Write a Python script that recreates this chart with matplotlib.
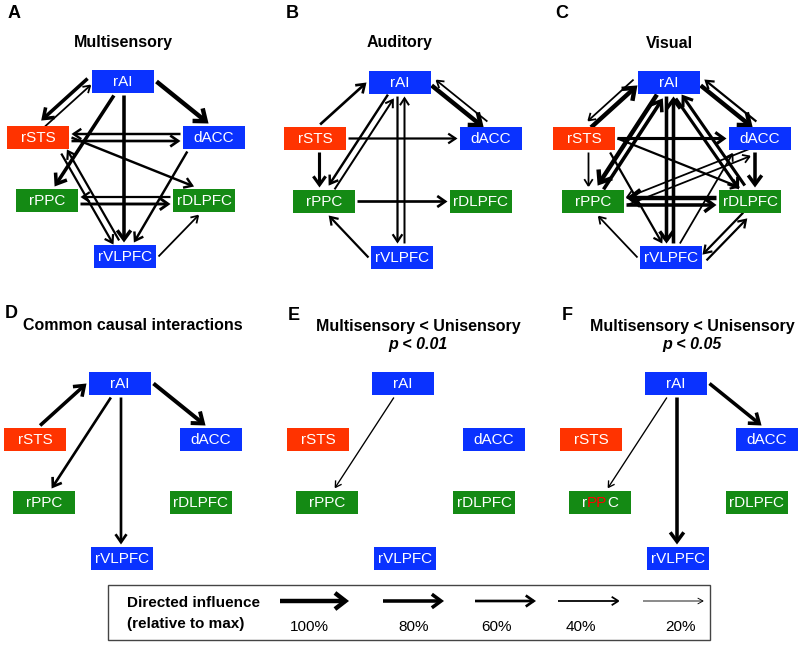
import matplotlib
matplotlib.use('Agg')
import matplotlib.pyplot as plt
import numpy as np
from matplotlib.patches import Rectangle, FancyArrowPatch, ArrowStyle

plt.rcParams['font.family'] = ['Liberation Sans', 'DejaVu Sans']

# ---- data ----
nodes = ['rAI', 'rSTS', 'dACC', 'rPPC', 'rDLPFC', 'rVLPFC']
node_colors = {'rAI': '#0a32ff', 'rSTS': '#ff3300', 'dACC': '#0a32ff',
               'rPPC': '#148a14', 'rDLPFC': '#148a14', 'rVLPFC': '#0a32ff'}

panel_letters = ['A', 'B', 'C', 'D', 'E', 'F']
panel_titles = ['Multisensory', 'Auditory', 'Visual', 'Common causal interactions',
                'Multisensory < Unisensory', 'Multisensory < Unisensory']
panel_subtitles = ['', '', '', '', 'p < 0.01', 'p < 0.05']

# (source, target, influence in % of max)
multisensory_edges = [
    ('rAI', 'dACC', 100), ('rAI', 'rSTS', 80), ('rSTS', 'rAI', 40),
    ('rAI', 'rPPC', 80), ('rAI', 'rVLPFC', 80), ('dACC', 'rSTS', 55),
    ('rSTS', 'dACC', 60), ('rSTS', 'rDLPFC', 55), ('dACC', 'rVLPFC', 55),
    ('rVLPFC', 'rSTS', 50), ('rSTS', 'rVLPFC', 50), ('rPPC', 'rDLPFC', 65),
    ('rDLPFC', 'rPPC', 50), ('rVLPFC', 'rDLPFC', 40),
]
auditory_edges = [
    ('rSTS', 'rAI', 60), ('rAI', 'dACC', 100), ('dACC', 'rAI', 40),
    ('rSTS', 'dACC', 50), ('rSTS', 'rPPC', 70), ('rAI', 'rPPC', 55),
    ('rPPC', 'rAI', 45), ('rAI', 'rVLPFC', 50), ('rVLPFC', 'rAI', 45),
    ('rPPC', 'rDLPFC', 60), ('rVLPFC', 'rPPC', 50),
]
visual_edges = [
    ('rAI', 'rSTS', 40), ('rSTS', 'rAI', 100), ('rAI', 'dACC', 100),
    ('dACC', 'rAI', 50), ('rSTS', 'dACC', 70), ('rSTS', 'rPPC', 40),
    ('rSTS', 'rDLPFC', 50), ('rSTS', 'rVLPFC', 50), ('rAI', 'rPPC', 100),
    ('rPPC', 'rAI', 80), ('rAI', 'rVLPFC', 80), ('rVLPFC', 'rAI', 80),
    ('rAI', 'rDLPFC', 70), ('rDLPFC', 'rAI', 70), ('rVLPFC', 'dACC', 40),
    ('dACC', 'rDLPFC', 80), ('rPPC', 'dACC', 40), ('dACC', 'rPPC', 40),
    ('rPPC', 'rDLPFC', 80), ('rDLPFC', 'rPPC', 100), ('rVLPFC', 'rPPC', 40),
    ('rVLPFC', 'rDLPFC', 50), ('rDLPFC', 'rVLPFC', 50),
]
common_edges = [('rSTS', 'rAI', 80), ('rAI', 'rPPC', 60),
                ('rAI', 'rVLPFC', 60), ('rAI', 'dACC', 90)]
diff01_edges = [('rAI', 'rPPC', 30)]
diff05_edges = [('rAI', 'rPPC', 30), ('rAI', 'rVLPFC', 80), ('rAI', 'dACC', 80)]
panel_edges = [multisensory_edges, auditory_edges, visual_edges,
               common_edges, diff01_edges, diff05_edges]

# node label partly highlighted in red (panel, node, highlighted letters)
highlight = ('F', 'rPPC', 'PP')

legend_pct = [100, 80, 60, 40, 20]
legend_labels = ['100%', '80%', '60%', '40%', '20%']

# ---- layout (pixels) ----
W, H = 62, 23
FS_NODE = 11
node_offset = {'rAI': (0, 0), 'rSTS': (-85, 56), 'dACC': (91, 56),
               'rPPC': (-76, 119), 'rDLPFC': (81, 119), 'rVLPFC': (2, 175)}
panel_origin = [(92, 70), (369, 71), (638, 71), (89, 372), (372, 372), (645, 372)]
letter_pos = [(8, 14), (286, 14), (555, 14), (5, 314), (288, 315), (562, 315)]
title_pos = [(123, 43), (400, 43), (669, 43), (23, 325), (418, 326), (692, 326)]
central = {'rAI', 'rVLPFC'}


def corner(org, n):
    return org[0] + node_offset[n][0], org[1] + node_offset[n][1]


def center(org, n):
    x, y = corner(org, n)
    return x + W / 2, y + H / 2


def width_of(pct):
    return 3.2 * pct / 100


def ports(org, a, b):
    G = 2.5
    (ax0, ay0), (bx0, by0) = corner(org, a), corner(org, b)
    ca, cb = center(org, a), center(org, b)
    dx, dy = cb[0] - ca[0], cb[1] - ca[1]
    if abs(dy) < 20:
        y = (ca[1] + cb[1]) / 2
        if dx > 0:
            return (ax0 + W + G, y), (bx0 - G, y)
        return (ax0 - G, y), (bx0 + W + G, y)
    if abs(dx) < 30:
        x = (ca[0] + cb[0]) / 2
        if dy > 0:
            return (x, ay0 + H + G), (x, by0 - G)
        return (x, ay0 - G), (x, by0 + H + G)
    if abs(dy) > abs(dx):
        def vport(n, c, x0, y0, oc, upper):
            k = (0.12 if n in central else 0.3) if upper else 0.1
            x = c[0] + k * (oc[0] - c[0])
            x = min(max(x, x0 + 4), x0 + W - 4)
            y = y0 + H + G if upper else y0 - G
            return (x, y)
        pa = vport(a, ca, ax0, ay0, cb, dy > 0)
        pb = vport(b, cb, bx0, by0, ca, dy < 0)
        return pa, pb
    # diagonal: one node leaves from its side, the other enters top/bottom
    if (a in central) != (b in central):
        side = a if a in central else b
    else:
        side = a if ca[0] < cb[0] else b
    other = b if side == a else a
    sx0, sy0 = corner(org, side)
    ox0, oy0 = corner(org, other)
    sc, oc = center(org, side), center(org, other)
    ps = (sx0 + W + G if oc[0] > sc[0] else sx0 - G, sc[1])
    po = (oc[0] + 0.06 * (sc[0] - oc[0]),
          oy0 - G if oc[1] > sc[1] else oy0 + H + G)
    return (ps, po) if side == a else (po, ps)


def draw_arrow(ax, p0, p1, pct):
    f = pct / 100
    style = ArrowStyle('->', head_length=3.0 + 4.5 * f, head_width=1.2 + 4.6 * f)
    ax.add_patch(FancyArrowPatch(p0, p1, arrowstyle=style, mutation_scale=1,
                                 lw=width_of(pct), color='black',
                                 shrinkA=0, shrinkB=0, zorder=2,
                                 joinstyle='miter', capstyle='butt'))


fig = plt.figure(figsize=(8.0, 6.47), dpi=100)
ax = fig.add_axes([0, 0, 1, 1])
ax.set_xlim(0, 800)
ax.set_ylim(647, 0)
ax.axis('off')
renderer = fig.canvas.get_renderer()


def text_width(s):
    t = ax.text(0, 0, s, fontsize=FS_NODE)
    w = t.get_window_extent(renderer).width
    t.remove()
    return w


for i, org in enumerate(panel_origin):
    lx, ly = letter_pos[i]
    ax.text(lx, ly, panel_letters[i], fontsize=13, fontweight='bold',
            ha='left', va='center')
    tx, ty = title_pos[i]
    ax.text(tx, ty, panel_titles[i], fontsize=11.5, fontweight='bold',
            ha='left' if i == 3 else 'center', va='center')
    if panel_subtitles[i]:
        ax.text(tx, ty + 19, panel_subtitles[i], fontsize=11.5, fontweight='bold',
                fontstyle='italic', ha='center', va='center')

    edges = panel_edges[i]
    pairs = {(s, t) for s, t, _ in edges}
    for s, t, pct in edges:
        p0, p1 = ports(org, s, t)
        p0, p1 = np.array(p0), np.array(p1)
        if (t, s) in pairs:
            lo, hi = sorted([s, t])
            v = np.array(center(org, hi)) - np.array(center(org, lo))
            n = np.array([-v[1], v[0]]) / np.hypot(*v)
            off = n * 3.5 * (1 if s == lo else -1)
            p0, p1 = p0 + off, p1 + off
        draw_arrow(ax, p0, p1, pct)

    for n in nodes:
        x0, y0 = corner(org, n)
        ax.add_patch(Rectangle((x0, y0), W, H, facecolor=node_colors[n],
                               edgecolor='none', zorder=3))
        cx, cy = center(org, n)
        if (panel_letters[i], n) == highlight[:2]:
            k = n.index(highlight[2])
            pieces = [(n[:k], 'white'), (highlight[2], 'red'),
                      (n[k + len(highlight[2]):], 'white')]
            x = cx - text_width(n) / 2
            for p, c in pieces:
                if not p:
                    continue
                ax.text(x, cy + 0.5, p, color=c, fontsize=FS_NODE,
                        ha='left', va='center', zorder=4)
                x += text_width(p)
        else:
            ax.text(cx, cy + 0.5, n, color='white', fontsize=FS_NODE,
                    ha='center', va='center', zorder=4)

# legend
ax.add_patch(Rectangle((108, 585), 602, 55, facecolor='none',
                       edgecolor='#444444', lw=1.0, zorder=1))
ax.text(127, 603, 'Directed influence', fontsize=11, fontweight='bold',
        ha='left', va='center')
ax.text(127, 624, '(relative to max)', fontsize=11, fontweight='bold',
        ha='left', va='center')
arrow_x = [(280, 349), (383, 444), (475, 536), (558, 620), (643, 704)]
label_x = [309, 414, 496, 581, 680]
for (x0, x1), lx, pct, lab in zip(arrow_x, label_x, legend_pct, legend_labels):
    draw_arrow(ax, (x0, 601), (x1, 601), pct)
    ax.text(lx, 627, lab, fontsize=11, ha='center', va='center')

fig.savefig('out.png', dpi=100)
